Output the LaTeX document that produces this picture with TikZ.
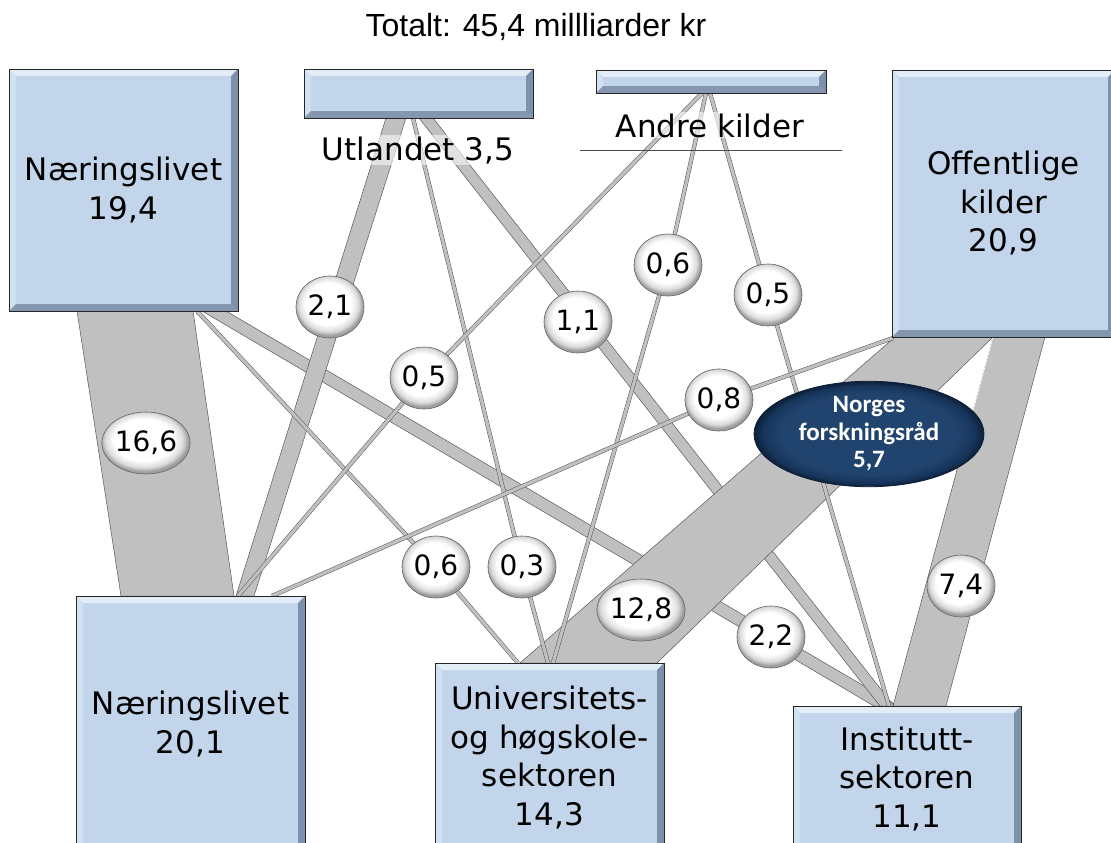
\documentclass[tikz,border=0pt]{standalone}
\usepackage{fontspec}
\setmainfont{DejaVu Sans}
\newfontfamily\titlefont{Liberation Sans}
\newfontfamily\nfrfont{Carlito}
\usepackage{tikz}
\usetikzlibrary{shapes.geometric,calc}
\definecolor{boxfill}{HTML}{C2D5EB}
\definecolor{boxtop}{HTML}{E3EDF8}
\definecolor{boxleft}{HTML}{D2E1F1}
\definecolor{boxbottom}{HTML}{8497AF}
\definecolor{boxright}{HTML}{7C91AC}
\definecolor{boxedge}{HTML}{262626}
\definecolor{bandfill}{HTML}{C0C0C0}
\definecolor{bandedge}{HTML}{585858}
\definecolor{nfrmid}{HTML}{21446F}
\definecolor{nfrdark}{HTML}{17355B}
\definecolor{nfrrim}{HTML}{0C1F38}
\pgfdeclareradialshading{bubbleshade}{\pgfpoint{-2bp}{4bp}}{color(0bp)=(white); color(17bp)=(white); color(22bp)=(black!14); color(25bp)=(black!38); color(50bp)=(black!38)}
\pgfdeclareradialshading{nfrshade}{\pgfpoint{0bp}{0bp}}{color(0bp)=(nfrmid); color(19bp)=(nfrmid); color(23bp)=(nfrdark); color(25bp)=(nfrrim); color(50bp)=(nfrrim)}

\begin{document}
\begin{tikzpicture}[x=1pt, y=-1pt,
    bevelbox/.style={rectangle, draw=boxedge, line width=0.8pt, fill=boxfill,
      inner sep=0pt, align=center, font=\fontsize{31}{38.5}\selectfont,
      path picture={
        \path (path picture bounding box.north west) coordinate (pnw)
              (path picture bounding box.north east) coordinate (pne)
              (path picture bounding box.south west) coordinate (psw)
              (path picture bounding box.south east) coordinate (pse);
        \fill[boxtop] (pnw) -- (pne) -- ([shift={(-7pt,-7pt)}]pne) -- ([shift={(7pt,-7pt)}]pnw) -- cycle;
        \fill[boxleft] (pnw) -- ([shift={(7pt,-7pt)}]pnw) -- ([shift={(7pt,7pt)}]psw) -- (psw) -- cycle;
        \fill[boxbottom] (psw) -- ([shift={(7pt,7pt)}]psw) -- ([shift={(-7pt,7pt)}]pse) -- (pse) -- cycle;
        \fill[boxright] (pne) -- (pse) -- ([shift={(-7pt,7pt)}]pse) -- ([shift={(-7pt,-7pt)}]pne) -- cycle;
      }},
    band/.style={fill=bandfill, draw=bandedge, line width=0.5pt, line join=round},
    thinflow/.style={draw=bandedge, line width=0.5pt, double=bandfill, double distance=3.2pt, line join=round},
    bubble/.style={ellipse, minimum width=68pt, minimum height=62pt, inner sep=0pt,
      draw=black!60, line width=0.6pt, shading=bubbleshade, font=\fontsize{28}{28}\selectfont},
    nfr/.style={ellipse, minimum width=230pt, minimum height=93pt, inner sep=0pt,
      draw=nfrrim, line width=0.8pt, shading=nfrshade, text=white, align=center,
      font=\nfrfont\bfseries\fontsize{25}{27.5}\selectfont},
    srclabel/.style={font=\fontsize{31}{31}\selectfont, fill=white, fill opacity=0.55,
      text opacity=1, inner sep=1pt, anchor=base}]

    \useasboundingbox (0,0) rectangle (1111,843);

    % Band ends on the source boxes
    \coordinate (n1a) at (77,311);  \coordinate (n1b) at (193,311);
    \coordinate (n1c) at (202,311); \coordinate (n1d) at (226,311);
    \coordinate (n1e) at (197,311);
    \coordinate (u1a) at (386,118); \coordinate (u1b) at (406,118);
    \coordinate (u1c) at (419,118); \coordinate (u1d) at (433,118);
    \coordinate (u1e) at (413,118);
    \coordinate (a1a) at (702,93);  \coordinate (a1b) at (706,93);
    \coordinate (a1c) at (710,93);
    \coordinate (o1a) at (895,337); \coordinate (o1b) at (993,337);
    \coordinate (o1c) at (1045,337); \coordinate (o1d) at (893,338);

    % Band ends on the receiving boxes
    \coordinate (n2a) at (121,596); \coordinate (n2b) at (234,596);
    \coordinate (n2c) at (236,596); \coordinate (n2d) at (254,596);
    \coordinate (n2e) at (238,596); \coordinate (n2f) at (272,596);
    \coordinate (uha) at (520,663); \coordinate (uhb) at (657,663);
    \coordinate (uhc) at (518,663); \coordinate (uhd) at (548,663);
    \coordinate (uhe) at (553,663);
    \coordinate (isa) at (874,706); \coordinate (isb) at (898,706);
    \coordinate (isc) at (880,706); \coordinate (isd) at (894,706);
    \coordinate (ise) at (889,706);
    \coordinate (isf) at (893,706); \coordinate (isg) at (946,706);

    % Bubble places
    \coordinate (c166) at (146,443);
    \coordinate (c21) at (330,307);
    \coordinate (c05l) at (424,378);
    \coordinate (c11) at (578,322);
    \coordinate (c06t) at (668,265);
    \coordinate (c05r) at (768,295);
    \coordinate (c08) at (719,400);
    \coordinate (c06b) at (436,567);
    \coordinate (c03) at (522,567);
    \coordinate (c128) at (641,610);
    \coordinate (c22) at (771,637);
    \coordinate (c74) at (961,586);

    % Wide flows
    \filldraw[band] (n1a) -- (n1b) -- (n2b) -- (n2a) -- cycle; % 16,6
    \filldraw[band] (n1c) -- (n1d) -- (isb) -- (isa) -- cycle; % 2,2
    \filldraw[band] (u1a) -- (u1b) -- (n2d) -- (n2c) -- cycle; % 2,1
    \filldraw[band] (u1c) -- (u1d) -- (isd) -- (isc) -- cycle; % 1,1
    \filldraw[band] (o1a) -- (o1b) -- (uhb) -- (uha) -- cycle; % 12,8
    \filldraw[band] (o1b) -- (o1c) -- (isg) -- (isf) -- cycle; % 7,4
    \draw[white, line width=0.8pt] (o1b) -- ($(o1b)!0.2!(isf)$);

    % Thin flows
    \draw[thinflow] (n1e) -- (c06b) -- (uhc);
    \draw[thinflow] (u1e) -- (c03) -- (uhd);
    \draw[thinflow] (a1a) -- (c05l) -- (n2e);
    \draw[thinflow] (a1b) -- (c06t) -- (uhe);
    \draw[thinflow] (a1c) -- (c05r) -- (ise);
    \draw[thinflow] (o1d) -- (c08) -- (n2f);

    % Forskningsrådet
    \node[nfr] (nfr) at (869,434) {Norges\\forskningsråd\\5,7};

    % Amounts
    \node[bubble] (b166) at (c166) {16,6};
    \node[bubble] (b21) at (c21) {2,1};
    \node[bubble] (b05l) at (c05l) {0,5};
    \node[bubble] (b11) at (c11) {1,1};
    \node[bubble] (b06t) at (c06t) {0,6};
    \node[bubble] (b05r) at (c05r) {0,5};
    \node[bubble] (b08) at (c08) {0,8};
    \node[bubble] (b06b) at (c06b) {0,6};
    \node[bubble] (b03) at (c03) {0,3};
    \node[bubble] (b128) at (c128) {12,8};
    \node[bubble] (b22) at (c22) {2,2};
    \node[bubble] (b74) at (c74) {7,4};

    % Sources
    \node[bevelbox, minimum width=229pt, minimum height=242pt] (nl19) at (123.5,190) {Næringslivet\\19,4};
    \node[bevelbox, minimum width=229pt, minimum height=49pt] (utl) at (418.5,93.5) {};
    \node[bevelbox, minimum width=230pt, minimum height=23pt] (andre) at (711,81.5) {};
    \node[bevelbox, minimum width=223pt, minimum height=267pt] (off) at (1003.5,203.5) {Offentlige\\kilder\\20,9};

    % Sectors
    \node[bevelbox, minimum width=229pt, minimum height=256pt] (nl20) at (190.5,724) {Næringslivet\\20,1};
    \node[bevelbox, minimum width=229pt, minimum height=189pt] (uh) at (549.5,757.5) {Universitets-\\og høgskole-\\sektoren\\14,3};
    \node[bevelbox, minimum width=228pt, minimum height=146pt] (is) at (907,779) {Institutt-\\sektoren\\11,1};

    % Labels
    \node[srclabel] (utllab) at (418,160) {Utlandet 3,5};
    \node[srclabel] (andrelab) at (710,137) {Andre kilder};
    \draw[black!70, line width=0.6pt] (580,150) -- (842,150);
    \node[anchor=base, font=\titlefont\fontsize{32}{36}\selectfont] (title) at (536,37) {Totalt: 45,4 millliarder kr};
\end{tikzpicture}
\end{document}
